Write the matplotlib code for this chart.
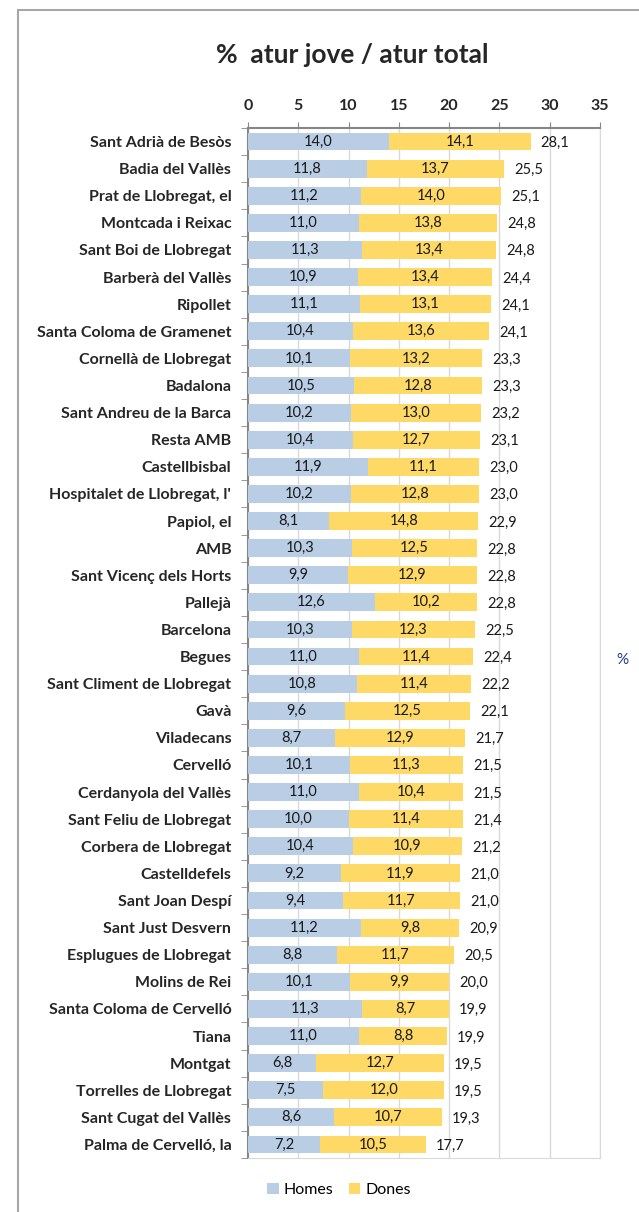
import numpy as np
import matplotlib.pyplot as plt
from matplotlib.patches import Rectangle

plt.rcParams['font.family'] = ['Lato', 'DejaVu Sans']

# dades
municipis = ["Sant Adrià de Besòs", "Badia del Vallès", "Prat de Llobregat, el",
             "Montcada i Reixac", "Sant Boi de Llobregat", "Barberà del Vallès",
             "Ripollet", "Santa Coloma de Gramenet", "Cornellà de Llobregat",
             "Badalona", "Sant Andreu de la Barca", "Resta AMB", "Castellbisbal",
             "Hospitalet de Llobregat, l'", "Papiol, el", "AMB",
             "Sant Vicenç dels Horts", "Pallejà", "Barcelona", "Begues",
             "Sant Climent de Llobregat", "Gavà", "Viladecans", "Cervelló",
             "Cerdanyola del Vallès", "Sant Feliu de Llobregat",
             "Corbera de Llobregat", "Castelldefels", "Sant Joan Despí",
             "Sant Just Desvern", "Esplugues de Llobregat", "Molins de Rei",
             "Santa Coloma de Cervelló", "Tiana", "Montgat",
             "Torrelles de Llobregat", "Sant Cugat del Vallès",
             "Palma de Cervelló, la"]
homes = [14.0, 11.8, 11.2, 11.0, 11.3, 10.9, 11.1, 10.4, 10.1, 10.5, 10.2, 10.4,
         11.9, 10.2, 8.1, 10.3, 9.9, 12.6, 10.3, 11.0, 10.8, 9.6, 8.7, 10.1,
         11.0, 10.0, 10.4, 9.2, 9.4, 11.2, 8.8, 10.1, 11.3, 11.0, 6.8, 7.5,
         8.6, 7.2]
dones = [14.1, 13.7, 14.0, 13.8, 13.4, 13.4, 13.1, 13.6, 13.2, 12.8, 13.0, 12.7,
         11.1, 12.8, 14.8, 12.5, 12.9, 10.2, 12.3, 11.4, 11.4, 12.5, 12.9, 11.3,
         10.4, 11.4, 10.9, 11.9, 11.7, 9.8, 11.7, 9.9, 8.7, 8.8, 12.7, 12.0,
         10.7, 10.5]
total = [28.1, 25.5, 25.1, 24.8, 24.8, 24.4, 24.1, 24.1, 23.3, 23.3, 23.2, 23.1,
         23.0, 23.0, 22.9, 22.8, 22.8, 22.8, 22.5, 22.4, 22.2, 22.1, 21.7, 21.5,
         21.5, 21.4, 21.2, 21.0, 21.0, 20.9, 20.5, 20.0, 19.9, 19.9, 19.5, 19.5,
         19.3, 17.7]

def fmt(v):
    return f"{v:.1f}".replace(".", ",")

fig = plt.figure(figsize=(6.39, 12.12), dpi=100)
ax = fig.add_axes([248/639, 1 - 1158/1212, 352/639, 1030/1212])

y = np.arange(len(municipis))
ax.barh(y, homes, height=0.66, color='#B9CDE5', label='Homes', zorder=3)
ax.barh(y, dones, left=homes, height=0.66, color='#FFD966', label='Dones', zorder=3)

# etiquetes dins les barres i total
for i in range(len(municipis)):
    ax.text(homes[i] / 2, y[i], fmt(homes[i]), ha='center', va='center',
            fontsize=10.5, color='#1a1a1a', zorder=4)
    ax.text(homes[i] + dones[i] / 2, y[i], fmt(dones[i]), ha='center', va='center',
            fontsize=10.5, color='#1a1a1a', zorder=4)
    ax.annotate(fmt(total[i]), (homes[i] + dones[i], y[i]), xytext=(7, -1),
                textcoords='offset points', ha='left', va='center',
                fontsize=10.5, color='#1a1a1a')

ax.set_xlim(0, 35)
ax.set_ylim(len(municipis) - 0.5, -0.5)
ax.set_xticks(range(0, 36, 5))
ax.xaxis.tick_top()
ax.tick_params(axis='x', length=4, color='#868686', labelsize=11.5, pad=7,
               labelcolor='#262626')
for t in ax.get_xticklabels():
    t.set_fontweight('bold')
ax.set_yticks(y)
ax.set_yticklabels(municipis, fontsize=11.5, fontweight='bold', color='#262626')
ax.set_yticks(np.arange(-0.5, len(municipis), 1), minor=True)
ax.tick_params(axis='y', which='major', length=0, pad=12)
ax.tick_params(axis='y', which='minor', length=5, color='#868686')
ax.grid(axis='x', color='#D9D9D9', linewidth=1, zorder=0)
ax.spines['left'].set_color('#868686')
ax.spines['top'].set_color('#868686')
ax.spines['left'].set_linewidth(1.5)
ax.spines['top'].set_linewidth(1.5)
ax.spines['right'].set_color('#D9D9D9')
ax.spines['bottom'].set_color('#D9D9D9')

fig.text(352/639, 1 - 55/1212, "%  atur jove / atur total", ha='center', va='center',
         fontsize=19, fontweight='bold', color='#262626')
fig.text(622/639, 1 - 660/1212, "%", ha='center', va='center', fontsize=11,
         color='#1F3C88')

ax.legend(loc='center', bbox_to_anchor=(339/639, 1 - 1190/1212),
          bbox_transform=fig.transFigure, ncol=2, frameon=False, fontsize=11.5,
          handlelength=0.7, handleheight=0.7, columnspacing=1.0, handletextpad=0.3)

# marc exterior
fig.patches.append(Rectangle((18/639, -0.1), 1.2, 1.1 - 10/1212,
                             transform=fig.transFigure, fill=False,
                             edgecolor='#A6A6A6', linewidth=1.5, clip_on=False))

fig.savefig("out.png", dpi=100)
